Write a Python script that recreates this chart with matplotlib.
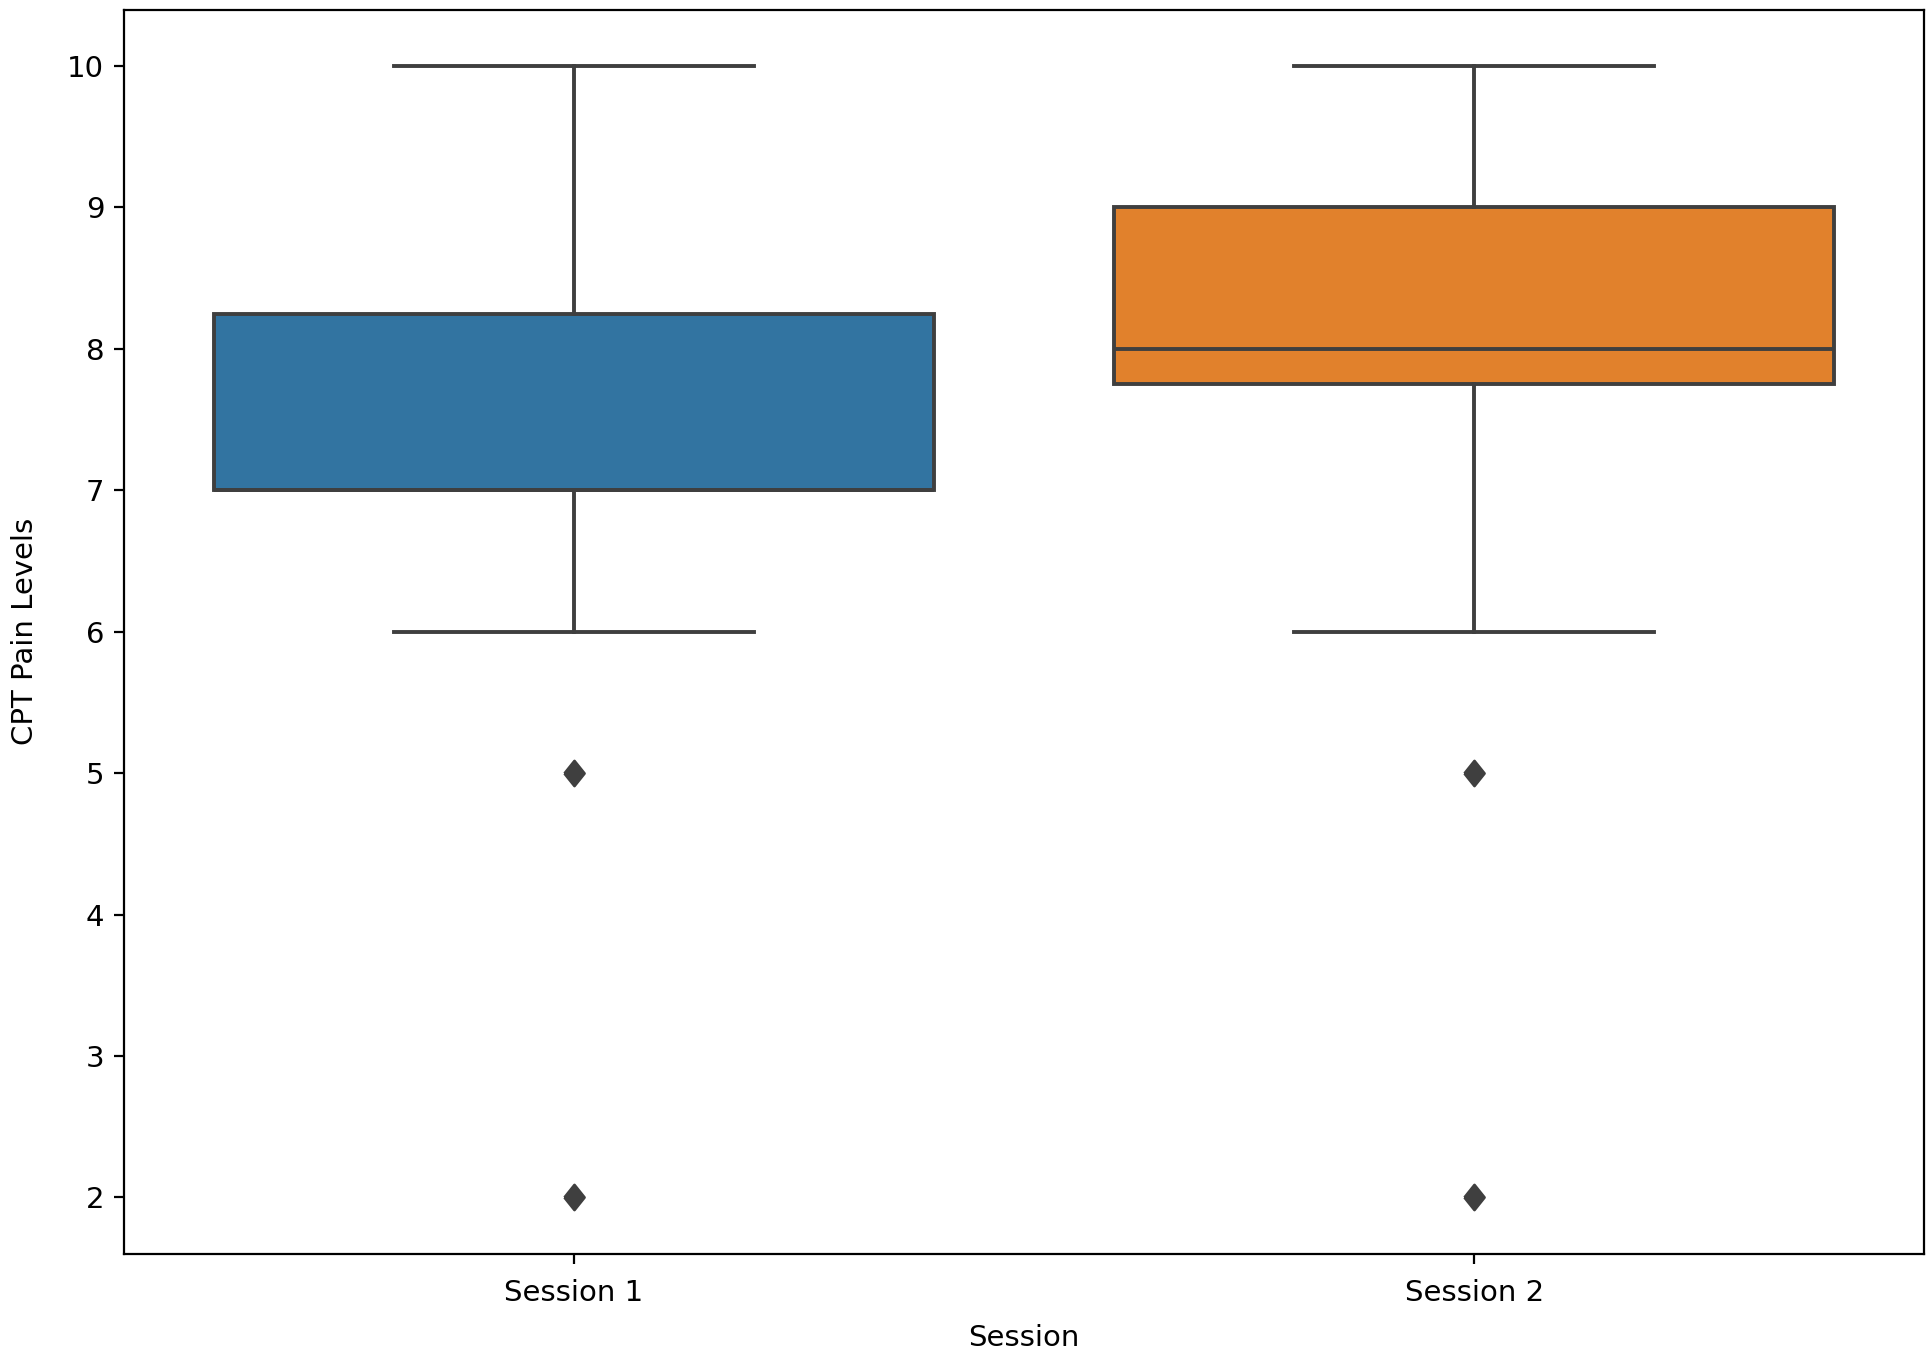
import matplotlib
matplotlib.use("Agg")
import matplotlib.pyplot as plt

# Box summary per session
sessions = ['Session 1', 'Session 2']
q1 = [7.0, 7.75]
medians = [7.0, 8.0]
q3 = [8.25, 9.0]
whisker_low = [6.0, 6.0]
whisker_high = [10.0, 10.0]
outliers = [[5.0, 2.0], [5.0, 2.0]]
box_colors = ['#3274a1', '#e1812c']

edge = '#3f3f3f'

stats = []
for i in range(len(sessions)):
    stats.append({
        'label': sessions[i],
        'q1': q1[i], 'med': medians[i], 'q3': q3[i],
        'whislo': whisker_low[i], 'whishi': whisker_high[i],
        'fliers': outliers[i],
    })

fig = plt.figure(figsize=(9.66, 6.79), dpi=200)
ax = fig.add_axes([0.064, 0.0766, 0.932, 0.9164])

diamond = [(-0.4, 0), (0, 0.5), (0.4, 0), (0, -0.5), (-0.4, 0)]
lw = 1.4
ax.bxp(stats, positions=range(len(sessions)), widths=0.8, patch_artist=True,
       boxprops=dict(edgecolor=edge, linewidth=lw),
       medianprops=dict(color=edge, linewidth=lw),
       whiskerprops=dict(color=edge, linewidth=lw),
       capprops=dict(color=edge, linewidth=lw),
       flierprops=dict(marker=diamond, markerfacecolor=edge, markeredgecolor=edge,
                       markersize=9, linestyle='none'),
       capwidths=0.4)

for patch, c in zip(ax.patches, box_colors):
    patch.set_facecolor(c)

ax.set_xlim(-0.5, 1.5)
ax.set_ylim(1.6, 10.4)
ax.set_xticks(range(len(sessions)))
ax.set_xticklabels(sessions)
ax.tick_params(labelsize=10.5)
ax.tick_params(axis='x', pad=5.5)
ax.set_xlabel('Session', fontsize=10.5, labelpad=6)
ax.set_ylabel('CPT Pain Levels', fontsize=10.5, labelpad=10)

fig.savefig('out.png', dpi=200)
